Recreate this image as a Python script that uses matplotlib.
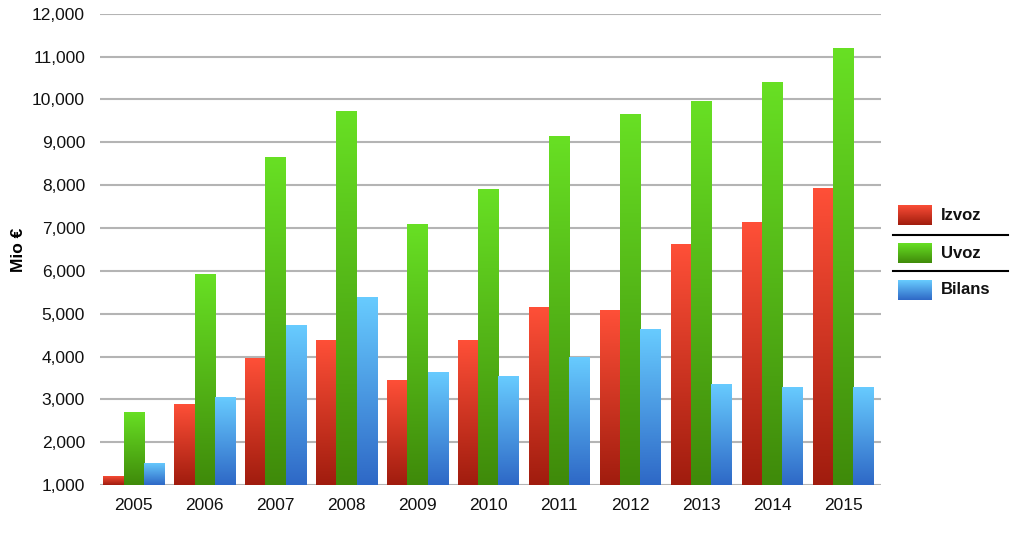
import matplotlib
matplotlib.use('Agg')
import matplotlib.pyplot as plt
import numpy as np
from matplotlib.colors import LinearSegmentedColormap
from matplotlib.lines import Line2D

plt.rcParams['font.family'] = ['Liberation Sans', 'DejaVu Sans']

years = ['2005', '2006', '2007', '2008', '2009', '2010',
         '2011', '2012', '2013', '2014', '2015']
izvoz = [1210, 2890, 3967, 4388, 3453, 4388, 5159, 5089, 6631, 7145, 7939]
uvoz = [2705, 5930, 8663, 9738, 7098, 7916, 9154, 9668, 9972, 10416, 11210]
bilans = [1514, 3056, 4738, 5393, 3640, 3547, 3990, 4645, 3360, 3290, 3290]
series_names = ['Izvoz', 'Uvoz', 'Bilans']

# top colour, bottom colour for each series
grads = [('#ff5038', '#a01c0e'), ('#68e024', '#3f8a0a'), ('#68ccff', '#2e68c6')]
base = 1000

fig = plt.figure(figsize=(10.24, 5.47), dpi=100)
ax = fig.add_axes([0.098, 0.113, 0.762, 0.862])

x = np.arange(len(years))
w = 0.285
grad = np.linspace(0, 1, 256).reshape(-1, 1)

for k, vals in enumerate([izvoz, uvoz, bilans]):
    top, bot = grads[k]
    cmap = LinearSegmentedColormap.from_list('g%d' % k, [bot, top])
    bars = ax.bar(x + (k - 1) * w, np.array(vals) - base, w, bottom=base,
                  color='none', edgecolor='none', zorder=3)
    for b in bars:
        x0, y0 = b.get_x(), b.get_y()
        im = ax.imshow(grad, cmap=cmap, aspect='auto', origin='lower',
                       extent=[x0, x0 + b.get_width(), y0, y0 + b.get_height()],
                       zorder=3)
        im.set_clip_path(b)

ax.set_xlim(-0.47, 10.53)
ax.set_ylim(1000, 12000)
ax.set_yticks(np.arange(1000, 12001, 1000))
ax.set_yticklabels(['{:,}'.format(v) for v in range(1000, 12001, 1000)])
ax.set_xticks(x)
ax.set_xticklabels(years)
ax.tick_params(axis='both', length=0, labelsize=12.5, colors='#111111')
ax.tick_params(axis='y', pad=11)
ax.tick_params(axis='x', pad=9)
ax.grid(axis='y', color='#b4b4b4', linewidth=1.5, zorder=0)
ax.set_axisbelow(True)
for s in ax.spines.values():
    s.set_visible(False)
ax.set_ylabel('Mio €', fontsize=12.5, fontweight='bold')
ax.yaxis.set_label_coords(-0.095, 0.5)

# legend drawn by hand, with separator lines
W, H = 1024, 547
ys = [215, 253, 290]
for k, name in enumerate(series_names):
    top, bot = grads[k]
    cy = ys[k]
    cmap = LinearSegmentedColormap.from_list('l%d' % k, [bot, top])
    lax = fig.add_axes([898 / W, 1 - (cy + 10) / H, 34 / W, 20 / H])
    lax.imshow(grad, cmap=cmap, aspect='auto', origin='lower')
    lax.axis('off')
    fig.text(941 / W, 1 - cy / H, name, fontsize=12, fontweight='bold',
             va='center', ha='left', color='#111111')
for ly in [235, 271]:
    fig.add_artist(Line2D([893 / W, 1008 / W], [1 - ly / H, 1 - ly / H],
                          color='black', linewidth=1.5))

fig.savefig('out.png', dpi=100)
